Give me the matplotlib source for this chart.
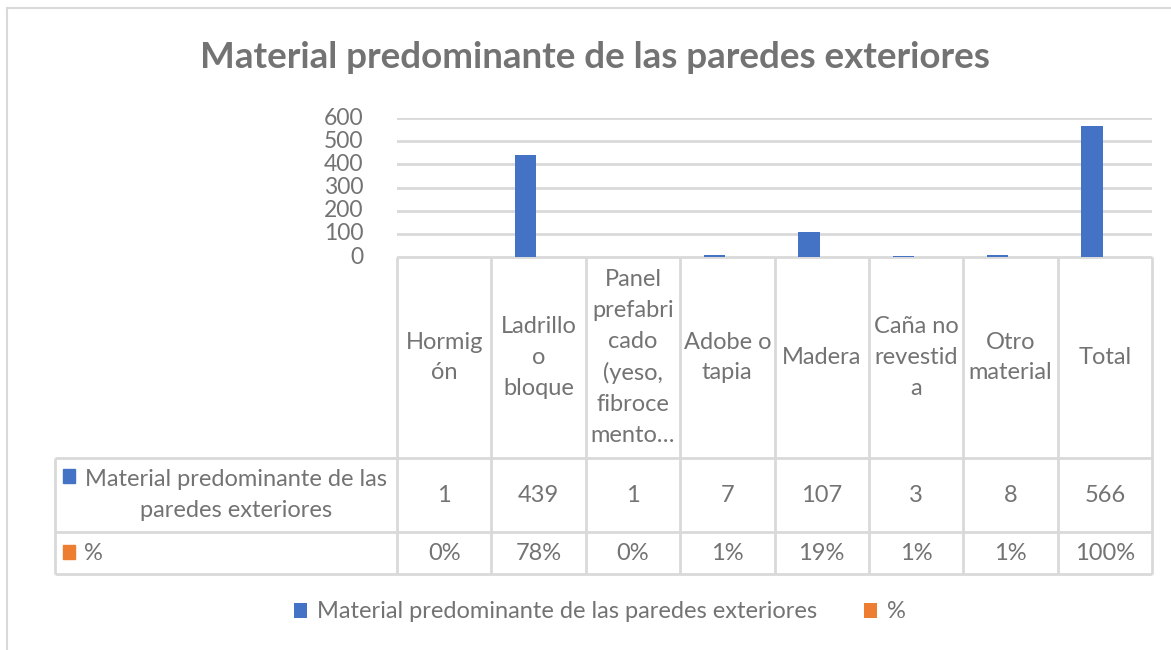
import matplotlib.pyplot as plt
from matplotlib.patches import Rectangle
import numpy as np

# data
categories = ["Hormig\nón", "Ladrillo\no\nbloque", "Panel\nprefabri\ncado\n(yeso,\nfibroce\nmento…",
              "Adobe o\ntapia", "Madera", "Caña no\nrevestid\na", "Otro\nmaterial", "Total"]
counts = [1, 439, 1, 7, 107, 3, 8, 566]
pcts = [0.0018, 0.7756, 0.0018, 0.0124, 0.189, 0.0053, 0.0141, 1.0]
pct_labels = ["0%", "78%", "0%", "1%", "19%", "1%", "1%", "100%"]
series_names = ["Material predominante de las paredes exteriores", "%"]
title = "Material predominante de las paredes exteriores"
yticks = [0, 100, 200, 300, 400, 500, 600]

BLUE = "#4472C4"
ORANGE = "#ED7D31"
TXT = "#737373"
LINE = "#D9D9D9"
FONT = "Lato"
FS = 17

plt.rcParams['font.family'] = [FONT, 'DejaVu Sans']

W, H = 1171, 650
fig = plt.figure(figsize=(W / 100, H / 100), dpi=100)

# pixel layout
x_left, x_right = 397, 1152
y_top, y_zero = 118, 257
tab_left = 55
row1_top, row2_top, tab_bottom = 458, 532, 574

# chart axes
ax = fig.add_axes([x_left / W, 1 - y_zero / H, (x_right - x_left) / W, (y_zero - y_top) / H])
x = np.arange(len(counts))
bw = 0.225
b1 = ax.bar(x - 0.135, counts, bw, color=BLUE, label=series_names[0], zorder=3)
b2 = ax.bar(x + 0.135, pcts, bw, color=ORANGE, label=series_names[1], zorder=3)
ax.set_xlim(-0.5, len(counts) - 0.5)
ax.set_ylim(0, 600)
ax.set_yticks(yticks)
ax.set_yticklabels([str(t) for t in yticks], fontsize=16.5, color=TXT)
ax.tick_params(axis='y', length=0, pad=24)
ax.tick_params(axis='x', length=0, labelbottom=False)
ax.grid(axis='y', color=LINE, lw=2, zorder=0)
for s in ax.spines.values():
    s.set_visible(False)
for lab in ax.get_yticklabels():
    lab.set_va('center')

# overlay in pixel coords for border and data table
ov = fig.add_axes([0, 0, 1, 1], zorder=-1)
ov.set_xlim(0, W)
ov.set_ylim(H, 0)
ov.axis('off')

# chart frame
ov.plot([7, W], [8, 8], color=LINE, lw=1.5)
ov.plot([7, 7], [8, H], color=LINE, lw=1.5)

n = len(categories)
col_w = (x_right - x_left) / n
kw = dict(color=LINE, lw=2, solid_capstyle='butt')
# horizontal lines
ov.plot([x_left, x_right], [y_zero, y_zero], **kw)
for yy in (row1_top, row2_top, tab_bottom):
    ov.plot([tab_left, x_right], [yy, yy], **kw)
# vertical lines
ov.plot([tab_left, tab_left], [row1_top, tab_bottom], **kw)
for i in range(n + 1):
    xx = x_left + i * col_w
    ov.plot([xx, xx], [y_zero, tab_bottom], **kw)

for i in range(n):
    cx = x_left + (i + 0.5) * col_w
    ov.text(cx, (y_zero + row1_top) / 2, categories[i], ha='center', va='center',
            fontsize=FS, color=TXT, linespacing=1.58)
    ov.text(cx, (row1_top + row2_top) / 2, str(counts[i]), ha='center', va='center',
            fontsize=FS, color=TXT)
    ov.text(cx, (row2_top + tab_bottom) / 2, pct_labels[i], ha='center', va='center',
            fontsize=FS, color=TXT)

# row headers with legend keys
ov.add_patch(Rectangle((63, 469), 12, 14, color=BLUE))
ov.text(236, (row1_top + row2_top) / 2, "Material predominante de las\nparedes exteriores",
        ha='center', va='center', fontsize=FS, color=TXT, linespacing=1.6)
ov.add_patch(Rectangle((63, 545), 12, 14, color=ORANGE))
ov.text(84, (row2_top + tab_bottom) / 2, series_names[1], ha='left', va='center',
        fontsize=FS, color=TXT)

# title
fig.text(595 / W, 1 - 58 / H, title, ha='center', va='center', fontsize=26.5,
         fontweight='bold', color=TXT)

# legend
fig.legend(handles=[b1, b2], labels=series_names, loc='center', ncol=2,
           bbox_to_anchor=(600 / W, 1 - 612 / H), frameon=False, fontsize=FS,
           labelcolor=TXT, handlelength=0.55, handleheight=0.6, handletextpad=0.4,
           columnspacing=2.0)

fig.savefig("out.png", dpi=100)
